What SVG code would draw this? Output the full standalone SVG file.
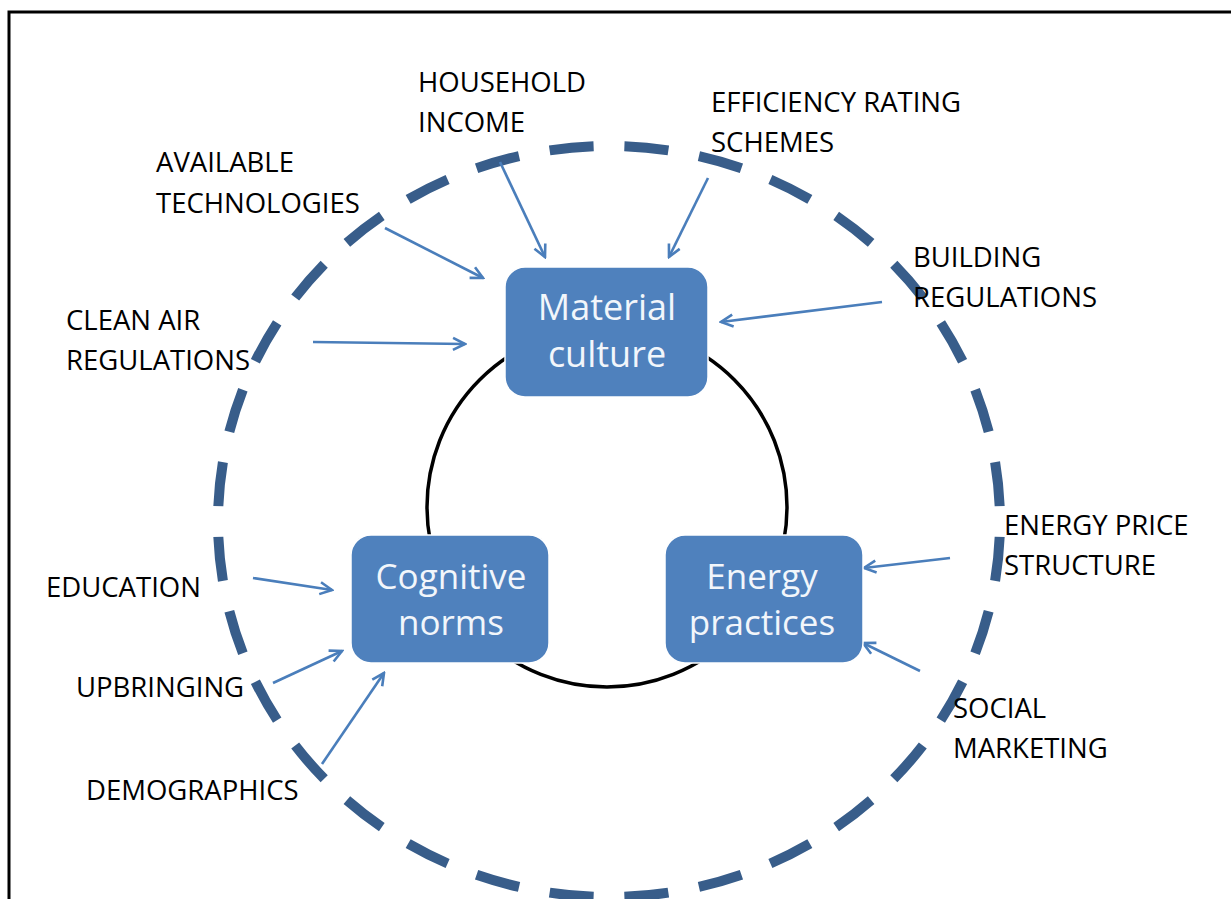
<svg xmlns="http://www.w3.org/2000/svg" width="1231" height="899" viewBox="0 0 1231 899">
<defs>
<style>
.lbl{font-family:"Open Sans","Noto Sans",sans-serif;font-size:27.5px;fill:#000}
.nt{font-family:"Open Sans","Noto Sans",sans-serif;font-size:36px;fill:#f2f6fb;text-anchor:middle}
.nt2{font-family:"Open Sans","Noto Sans",sans-serif;font-size:35px;fill:#f2f6fb;text-anchor:middle}
.box{fill:#4f81bd;stroke:#ffffff;stroke-width:1.5}
.arr{stroke:#4a7ebb;stroke-width:2.6;fill:none;marker-end:url(#ah)}
</style>
<marker id="ah" markerUnits="userSpaceOnUse" viewBox="0 0 16 16" markerWidth="16" markerHeight="16" refX="14" refY="8" orient="auto">
<path d="M2,2 L14,8 L2,14" fill="none" stroke="#4a7ebb" stroke-width="2.6"/>
</marker>
</defs>
<rect width="1231" height="899" fill="#fff"/>
<path d="M9,899 V12 H1231" fill="none" stroke="#000" stroke-width="3"/>
<g id="outer-ring">
<path d="M1000,521.5 A391,375.5 0 0 1 218,521.5 A391,375.5 0 0 1 1000,521.5" pathLength="2400" fill="none" stroke="#385d8a" stroke-width="10" stroke-dasharray="44 31" stroke-dashoffset="59.5"/>
</g>
<g id="cycle">
<circle cx="607" cy="507" r="180" fill="none" stroke="#000" stroke-width="3.5"/>
</g>
<g id="connectors">
<line class="arr" x1="500" y1="162" x2="545" y2="257"/>
<line class="arr" x1="708" y1="178" x2="669" y2="257"/>
<line class="arr" x1="385" y1="228" x2="483" y2="278"/>
<line class="arr" x1="313" y1="342" x2="465" y2="344"/>
<line class="arr" x1="882" y1="302" x2="721" y2="322"/>
<line class="arr" x1="950" y1="558" x2="864" y2="568"/>
<line class="arr" x1="920" y1="671" x2="863" y2="643"/>
<line class="arr" x1="253" y1="578" x2="332" y2="590"/>
<line class="arr" x1="273" y1="683" x2="342" y2="651"/>
<line class="arr" x1="322" y1="764" x2="384" y2="673"/>
</g>
<g id="material-culture">
<rect class="box" x="505" y="267" width="203" height="130" rx="20"/>
<text class="nt"><tspan x="607" y="320">Material</tspan><tspan x="607" y="367">culture</tspan></text>
</g>
<g id="cognitive-norms">
<rect class="box" x="351" y="535" width="198" height="128" rx="20"/>
<text class="nt2"><tspan x="451" y="589">Cognitive</tspan><tspan x="451" y="635">norms</tspan></text>
</g>
<g id="energy-practices">
<rect class="box" x="665" y="535" width="198" height="128" rx="20"/>
<text class="nt2"><tspan x="762" y="589">Energy</tspan><tspan x="762" y="635">practices</tspan></text>
</g>
<g id="household-income"><text class="lbl"><tspan x="418" y="92">HOUSEHOLD</tspan><tspan x="418" y="132">INCOME</tspan></text></g>
<g id="efficiency-rating"><text class="lbl"><tspan x="711" y="112">EFFICIENCY RATING</tspan><tspan x="711" y="152">SCHEMES</tspan></text></g>
<g id="available-technologies"><text class="lbl"><tspan x="156" y="172">AVAILABLE</tspan><tspan x="156" y="213">TECHNOLOGIES</tspan></text></g>
<g id="building-regulations"><text class="lbl"><tspan x="913" y="267">BUILDING</tspan><tspan x="913" y="307">REGULATIONS</tspan></text></g>
<g id="clean-air"><text class="lbl"><tspan x="66" y="330">CLEAN AIR</tspan><tspan x="66" y="370">REGULATIONS</tspan></text></g>
<g id="energy-price"><text class="lbl"><tspan x="1004" y="535">ENERGY PRICE</tspan><tspan x="1004" y="575">STRUCTURE</tspan></text></g>
<g id="education"><text class="lbl" x="46" y="597">EDUCATION</text></g>
<g id="upbringing"><text class="lbl" x="76" y="697">UPBRINGING</text></g>
<g id="demographics"><text class="lbl" x="86" y="800">DEMOGRAPHICS</text></g>
<g id="social-marketing"><text class="lbl"><tspan x="953" y="718">SOCIAL</tspan><tspan x="953" y="758">MARKETING</tspan></text></g>
</svg>
